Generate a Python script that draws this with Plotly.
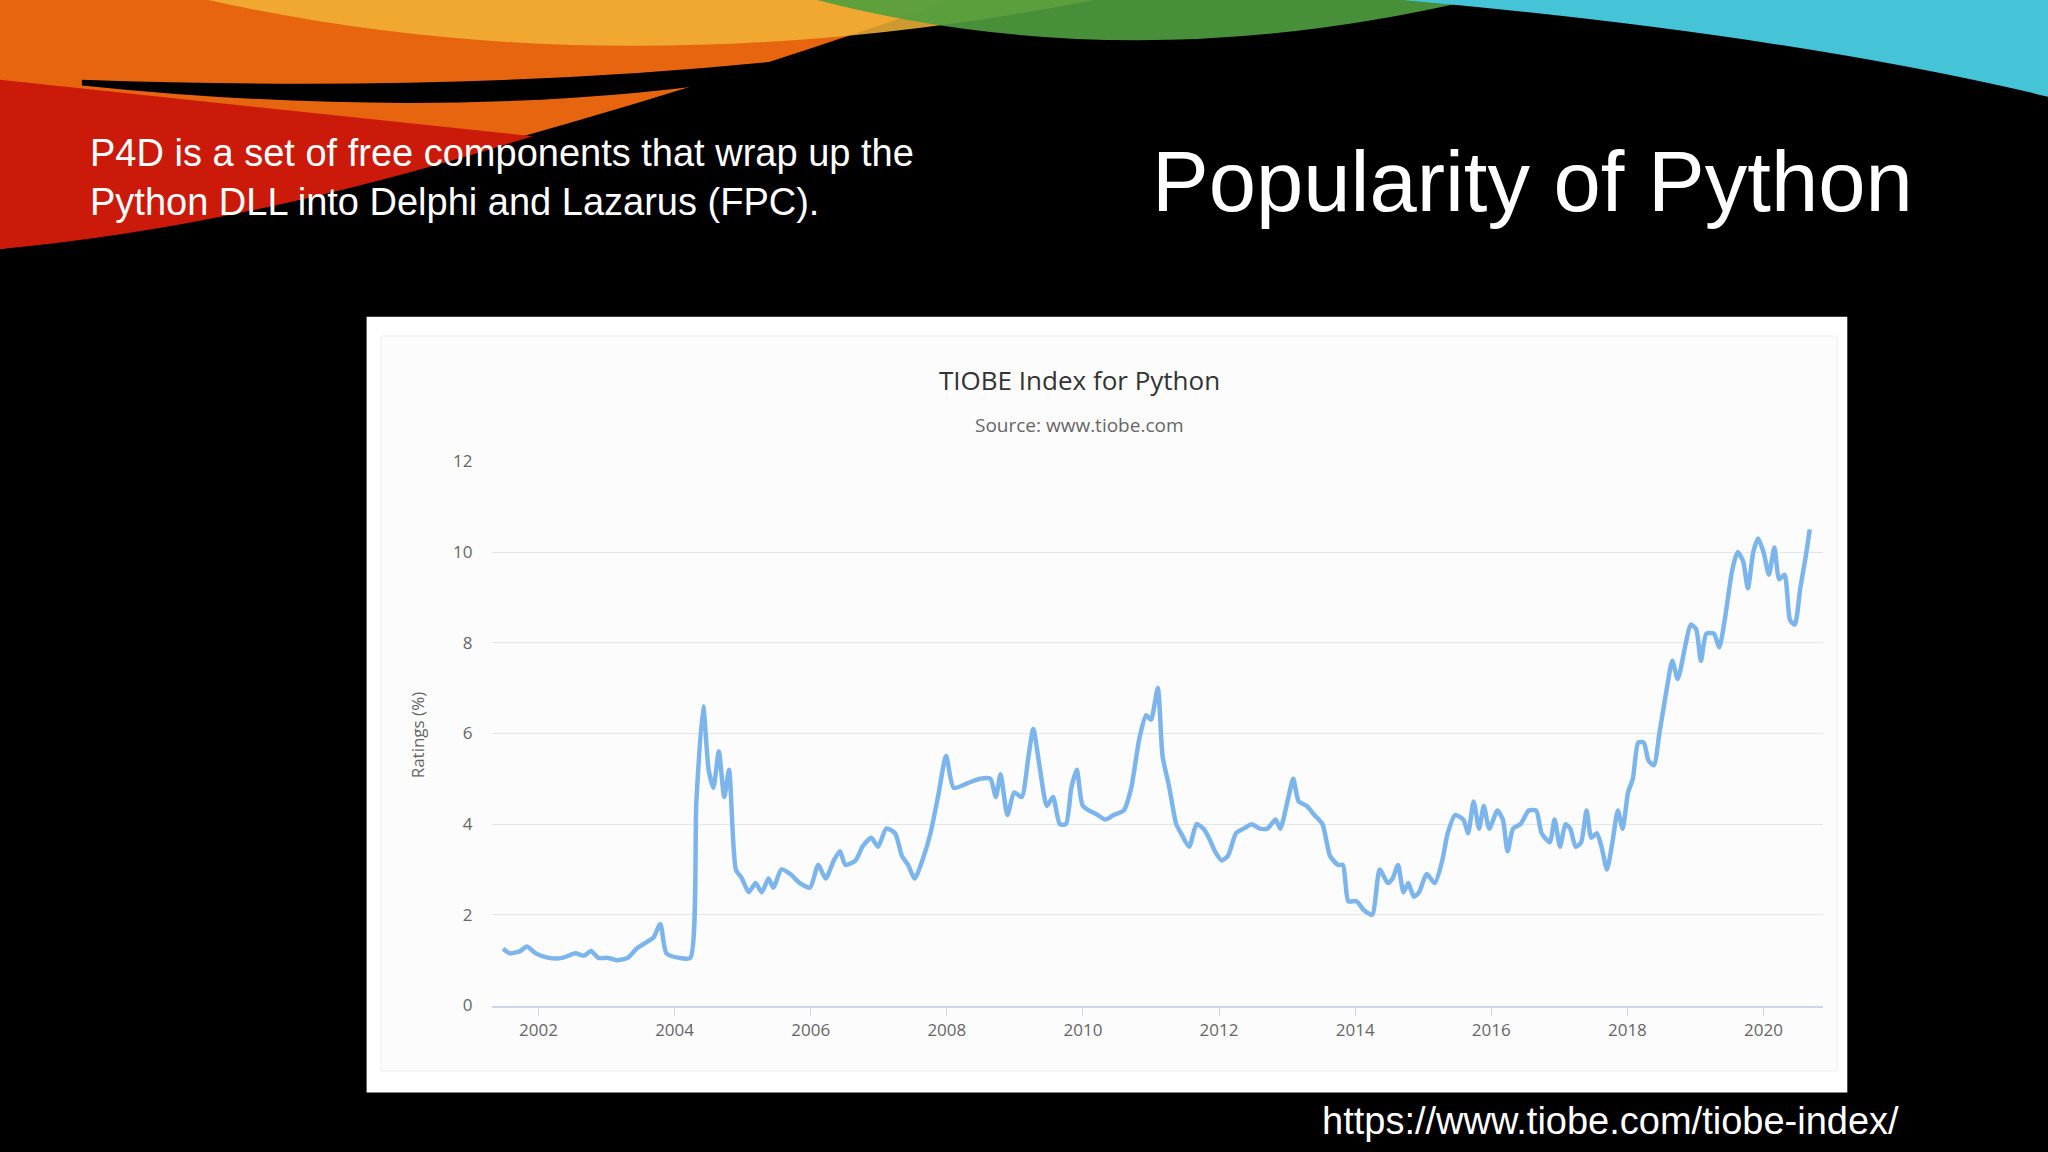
import plotly.graph_objects as go

years = [2001.48,2001.58,2001.73,2001.83,2001.96,2002.15,2002.35,2002.54,2002.67,2002.77,2002.88,2003.02,2003.15,2003.31,2003.44,2003.59,2003.69,2003.79,2003.88,2004.07,2004.23,2004.32,2004.42,2004.50,2004.57,2004.65,2004.73,2004.80,2004.90,2004.99,2005.09,2005.19,2005.28,2005.38,2005.45,2005.57,2005.70,2005.84,2005.99,2006.11,2006.22,2006.34,2006.43,2006.51,2006.66,2006.76,2006.89,2006.99,2007.11,2007.24,2007.34,2007.43,2007.53,2007.64,2007.76,2007.87,2007.99,2008.10,2008.30,2008.49,2008.64,2008.72,2008.79,2008.89,2008.99,2009.10,2009.20,2009.27,2009.37,2009.47,2009.56,2009.66,2009.75,2009.83,2009.91,2010.00,2010.22,2010.33,2010.45,2010.60,2010.71,2010.83,2010.93,2011.00,2011.10,2011.17,2011.27,2011.37,2011.44,2011.56,2011.67,2011.77,2011.85,2011.94,2012.04,2012.13,2012.25,2012.36,2012.48,2012.60,2012.71,2012.83,2012.90,2013.02,2013.09,2013.17,2013.29,2013.40,2013.52,2013.63,2013.75,2013.82,2013.90,2014.02,2014.13,2014.25,2014.36,2014.48,2014.55,2014.63,2014.71,2014.78,2014.86,2014.94,2015.05,2015.17,2015.28,2015.36,2015.47,2015.59,2015.66,2015.74,2015.82,2015.89,2015.97,2016.09,2016.17,2016.24,2016.32,2016.43,2016.55,2016.66,2016.74,2016.86,2016.93,2017.01,2017.09,2017.16,2017.24,2017.32,2017.40,2017.47,2017.55,2017.62,2017.70,2017.78,2017.86,2017.93,2018.01,2018.08,2018.16,2018.24,2018.31,2018.39,2018.47,2018.58,2018.66,2018.74,2018.86,2018.93,2019.01,2019.08,2019.16,2019.27,2019.35,2019.43,2019.54,2019.62,2019.70,2019.77,2019.85,2019.92,2020.00,2020.08,2020.16,2020.23,2020.31,2020.39,2020.46,2020.54,2020.62,2020.68]
ratings = [1.25,1.15,1.2,1.3,1.15,1.05,1.05,1.15,1.1,1.2,1.05,1.05,1.0,1.05,1.25,1.4,1.5,1.8,1.15,1.05,1.05,4.5,6.6,5.2,4.8,5.6,4.6,5.2,3.0,2.8,2.5,2.7,2.5,2.8,2.6,3.0,2.9,2.7,2.6,3.1,2.8,3.2,3.4,3.1,3.2,3.5,3.7,3.5,3.9,3.8,3.3,3.1,2.8,3.2,3.8,4.6,5.5,4.8,4.9,5.0,5.0,4.6,5.1,4.2,4.7,4.6,5.5,6.1,5.2,4.4,4.6,4.0,4.0,4.8,5.2,4.4,4.2,4.1,4.2,4.3,4.8,5.9,6.4,6.3,7.0,5.5,4.8,4.0,3.8,3.5,4.0,3.9,3.7,3.4,3.2,3.3,3.8,3.9,4.0,3.9,3.9,4.1,3.9,4.6,5.0,4.5,4.4,4.2,4.0,3.3,3.1,3.1,2.3,2.3,2.1,2.0,3.0,2.7,2.8,3.1,2.5,2.7,2.4,2.5,2.9,2.7,3.2,3.8,4.2,4.1,3.8,4.5,3.9,4.4,3.9,4.3,4.1,3.4,3.9,4.0,4.3,4.3,3.8,3.6,4.1,3.5,4.0,3.9,3.5,3.6,4.3,3.7,3.8,3.5,3.0,3.6,4.3,3.9,4.7,5.0,5.8,5.8,5.4,5.3,6.0,7.0,7.6,7.2,8.0,8.4,8.3,7.6,8.2,8.2,7.9,8.5,9.6,10.0,9.8,9.2,10.0,10.3,10.0,9.5,10.1,9.4,9.5,8.5,8.4,9.2,9.9,10.5]
x_ticks = [2002,2004,2006,2008,2010,2012,2014,2016,2018,2020]
y_ticks = [0,2,4,6,8,10,12]

fig = go.Figure(go.Scatter(x=years, y=ratings, mode="lines",
    line=dict(color="#7cb5ec", width=4.5, shape="spline", smoothing=0.6),
    hoverinfo="skip", showlegend=False))

shapes = [
    dict(type="rect", xref="paper", yref="paper", x0=0.179, x1=0.902, y0=0.043, y1=0.73,
         fillcolor="#ffffff", line=dict(width=0), layer="below"),
    dict(type="rect", xref="paper", yref="paper", x0=0.186, x1=0.897, y0=0.062, y1=0.713,
         fillcolor="#fcfcfc", line=dict(color="#eeeeee", width=1), layer="below"),
    dict(type="path", xref="paper", yref="paper", path="M 0,1.02 L 0,0.79 Q 0.2,0.84 0.48,1.02 Z",
         fillcolor="#e8650f", line=dict(width=0), layer="below"),
    dict(type="path", xref="paper", yref="paper", path="M 0,0.94 L 0,0.79 Q 0.12,0.81 0.26,0.89 Z",
         fillcolor="#cc1a0a", line=dict(width=0), layer="below"),
    dict(type="path", xref="paper", yref="paper", path="M 0.08,1.02 Q 0.3,0.92 0.56,1.02 Z",
         fillcolor="#f2b437", opacity=0.85, line=dict(width=0), layer="below"),
    dict(type="path", xref="paper", yref="paper", path="M 0.38,1.02 Q 0.55,0.93 0.74,1.02 Z",
         fillcolor="#4f9e3e", opacity=0.9, line=dict(width=0), layer="below"),
    dict(type="path", xref="paper", yref="paper", path="M 0.62,1.02 Q 0.85,0.99 1,0.925 L 1,1.02 Z",
         fillcolor="#44c4d6", line=dict(width=0), layer="below"),
    dict(type="path", xref="paper", yref="paper", path="M 0.04,0.935 Q 0.28,0.89 0.46,0.975 Q 0.28,0.925 0.04,0.94 Z",
         fillcolor="#000000", line=dict(width=0), layer="below"),
]

ann = [
    dict(text="P4D is a set of free components that wrap up the<br>Python DLL into Delphi and Lazarus (FPC).",
         x=0.043, y=0.853, xanchor="left", yanchor="middle", align="left",
         font=dict(family="Liberation Sans", size=38, color="white")),
    dict(text="Popularity of Python", x=0.935, y=0.85, xanchor="right", yanchor="middle",
         font=dict(family="Liberation Sans", size=85, color="white")),
    dict(text="https://www.tiobe.com/tiobe-index/", x=0.928, y=0.018, xanchor="right", yanchor="middle",
         font=dict(family="Liberation Sans", size=38, color="white")),
    dict(text="TIOBE Index for Python", x=0.527, y=0.674, xanchor="center", yanchor="middle",
         font=dict(family="Open Sans", size=26, color="#333333")),
    dict(text="Source: www.tiobe.com", x=0.527, y=0.634, xanchor="center", yanchor="middle",
         font=dict(family="Open Sans", size=19, color="#666666")),
    dict(text="Ratings (%)", x=0.204, y=0.36, textangle=-90, xanchor="center", yanchor="middle",
         font=dict(family="Open Sans", size=17, color="#666666")),
]
for a in ann:
    a.update(xref="paper", yref="paper", showarrow=False)

fig.update_layout(
    width=2048, height=1152, paper_bgcolor="#000000", plot_bgcolor="rgba(0,0,0,0)",
    margin=dict(l=0, r=0, t=0, b=0), shapes=shapes, annotations=ann,
    xaxis=dict(domain=[0.240, 0.890], range=[2001.31, 2020.87], tickvals=x_ticks,
               ticktext=[str(t) for t in x_ticks], showgrid=False, zeroline=False,
               showline=True, linecolor="#ccd6eb", linewidth=2, ticks="outside",
               tickcolor="#ccd6eb", ticklen=8,
               tickfont=dict(family="Open Sans", size=17, color="#666666")),
    yaxis=dict(domain=[0.12, 0.602], range=[0, 12], tickvals=y_ticks,
               gridcolor="#e6e6e6", zeroline=False, ticks="", ticklabelstandoff=18,
               tickfont=dict(family="Open Sans", size=17, color="#666666")),
)
fig.write_html("out.html", config={"displayModeBar": False},
               post_script="document.body.style.margin='0';document.body.style.background='#000';")
